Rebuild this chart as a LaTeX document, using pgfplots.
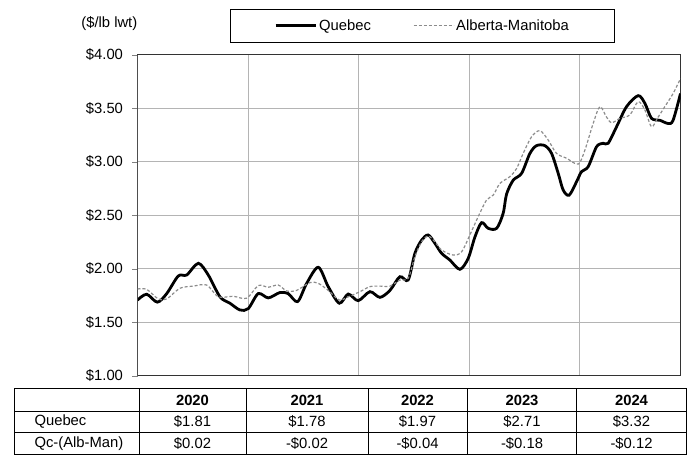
\documentclass[border=0pt]{standalone}
\usepackage{fontspec}
\setmainfont{Liberation Sans}
\usepackage{pgfplots}
\pgfplotsset{compat=1.18}
\usepackage{pgfplotstable}

\newcommand\cf{\fontsize{14.8}{17.8}\selectfont}
\definecolor{gridgray}{HTML}{B4B4B4}
\definecolor{amgray}{HTML}{8C8C8C}

% Weekly cattle prices, years since Jan 2020
\pgfplotstableread{
t      p
0.000  1.710
0.083  1.764
0.179  1.690
0.264  1.770
0.369  1.935
0.445  1.944
0.550  2.053
0.640  1.944
0.746  1.740
0.836  1.680
0.927  1.617
1.002  1.630
1.092  1.770
1.183  1.730
1.288  1.780
1.363  1.770
1.448  1.695
1.530  1.866
1.635  2.016
1.725  1.835
1.825  1.680
1.906  1.766
1.996  1.704
2.102  1.788
2.193  1.735
2.283  1.800
2.373  1.928
2.448  1.897
2.509  2.147
2.570  2.270
2.629  2.318
2.690  2.240
2.750  2.147
2.825  2.084
2.916  1.997
2.991  2.100
3.052  2.300
3.112  2.433
3.172  2.380
3.248  2.380
3.307  2.520
3.338  2.700
3.398  2.830
3.474  2.894
3.549  3.080
3.609  3.153
3.684  3.153
3.745  3.080
3.805  2.894
3.850  2.738
3.904  2.690
3.971  2.816
4.016  2.910
4.076  2.956
4.152  3.143
4.212  3.175
4.257  3.175
4.333  3.330
4.423  3.517
4.528  3.620
4.589  3.548
4.649  3.408
4.724  3.390
4.799  3.360
4.844  3.390
4.911  3.640
}\quebec

\pgfplotstableread{
t      p
0.000  1.813
0.083  1.810
0.188  1.720
0.264  1.720
0.384  1.820
0.505  1.840
0.626  1.850
0.731  1.740
0.866  1.745
0.987  1.727
1.092  1.845
1.183  1.830
1.273  1.850
1.349  1.795
1.439  1.800
1.560  1.873
1.635  1.866
1.725  1.800
1.825  1.710
1.906  1.740
2.012  1.788
2.102  1.835
2.193  1.840
2.283  1.840
2.373  1.897
2.448  1.913
2.509  2.115
2.570  2.255
2.629  2.308
2.690  2.255
2.750  2.178
2.855  2.130
2.931  2.160
3.006  2.318
3.081  2.489
3.157  2.645
3.217  2.690
3.278  2.800
3.368  2.863
3.429  2.940
3.488  3.080
3.564  3.236
3.639  3.293
3.714  3.206
3.790  3.080
3.881  3.035
3.986  2.980
4.046  3.110
4.121  3.360
4.182  3.517
4.242  3.420
4.288  3.367
4.363  3.408
4.453  3.440
4.528  3.564
4.589  3.486
4.649  3.330
4.709  3.420
4.769  3.517
4.844  3.640
4.911  3.780
}\albman

\begin{document}
\begin{tikzpicture}[font=\cf]
\path[use as bounding box] (0pt,0pt) rectangle (691pt,455pt);
\begin{axis}[
  name=ax,
  at={(137.5pt,79pt)}, anchor=south west,
  width=543pt, height=321pt, scale only axis,
  xmin=0, xmax=4.911,
  ymin=1, ymax=4,
  xtick={1,2,3,4}, xticklabels={},
  xtick style={draw=none},
  ytick={1,1.5,2,2.5,3,3.5,4},
  yticklabels={\$1.00,\$1.50,\$2.00,\$2.50,\$3.00,\$3.50,\$4.00},
  ytick pos=left, tick align=outside,
  major tick length=5pt,
  ytick style={draw=gray, line width=0.8pt},
  yticklabel style={xshift=-6pt},
  grid=major,
  major grid style={gridgray, line width=1pt},
  axis line style={black!80, line width=1pt},
  legend columns=2,
  legend style={at={(rel axis cs:0.525,1.091)}, anchor=center,
    draw=black, line width=1pt, inner xsep=44pt, inner ysep=8.5pt,
    /tikz/every even column/.append style={column sep=40pt},
    font=\cf},
  legend cell align=left,
  legend image code/.code={\draw[#1] (0pt,0pt) -- (40pt,0pt);},
]
\addplot[black, line width=2.8pt, smooth, tension=0.5] table[x=t,y=p]{\quebec};
\addlegendentry{Quebec}
\addplot[amgray, line width=1.2pt, dash pattern=on 3pt off 2pt, smooth, tension=0.5] table[x=t,y=p]{\albman};
\addlegendentry{Alberta-Manitoba}
\draw[gray, line width=1.6pt] (rel axis cs:0,0) -- (rel axis cs:0,1);
\end{axis}
\node[anchor=east, inner sep=0pt] at ([yshift=31pt]ax.north west) {(\$/lb lwt)};

% Annual averages
\begin{scope}[line width=1pt]
  \draw (14pt,0.5pt) rectangle (686pt,66.7pt);
  \draw (14pt,43.5pt) -- (686pt,43.5pt);
  \draw (14pt,22pt) -- (686pt,22pt);
  \foreach \x in {139,246,368,467,576.5} \draw (\x pt,0.5pt) -- (\x pt,66.7pt);
\end{scope}
\foreach \c/\y in {192.5/2020,307/2021,417.5/2022,522/2023,631.5/2024}
  \node[font=\cf\bfseries] at (\c pt,55pt) {\y};
\node[anchor=west] at (31pt,33pt) {Quebec};
\node[anchor=west] at (31pt,11pt) {Qc-(Alb-Man)};
\foreach \c/\v in {192.5/\$1.81,307/\$1.78,417.5/\$1.97,522/\$2.71,631.5/\$3.32}
  \node at (\c pt,33pt) {\v};
\foreach \c/\v in {192.5/\$0.02,307/-\$0.02,417.5/-\$0.04,522/-\$0.18,631.5/-\$0.12}
  \node at (\c pt,11pt) {\v};
\end{tikzpicture}
\end{document}
